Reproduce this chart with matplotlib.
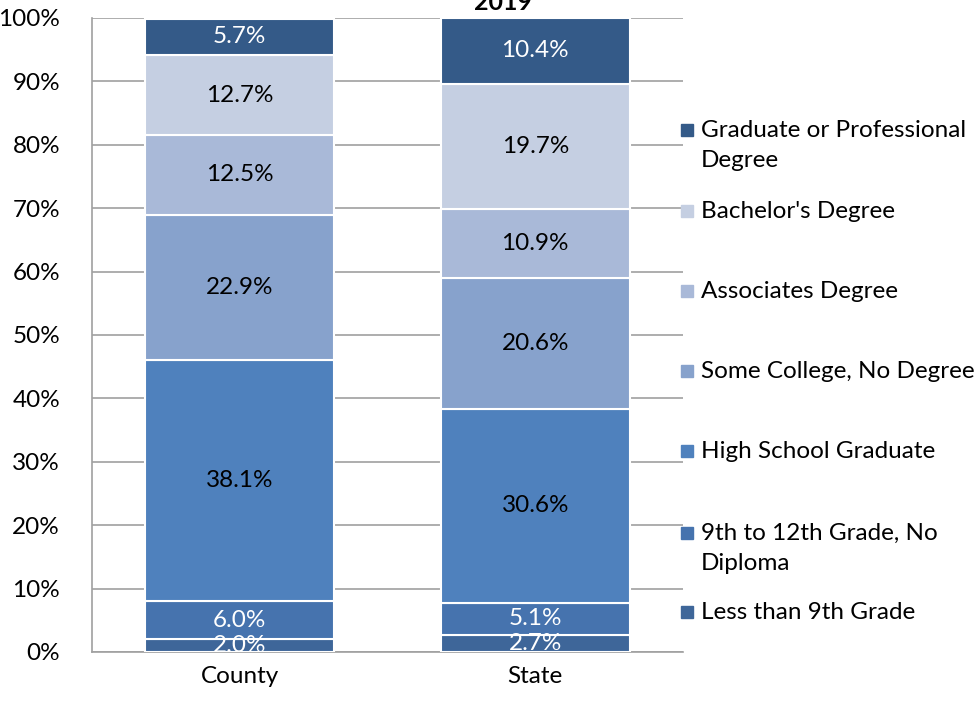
import numpy as np
import matplotlib
matplotlib.use("Agg")
import matplotlib.pyplot as plt
from matplotlib.patches import Rectangle

plt.rcParams['font.family'] = ['Lato', 'DejaVu Sans']

# data, bottom segment first
places = ["County", "State"]
levels = ["Less than 9th Grade", "9th to 12th Grade, No\nDiploma", "High School Graduate",
          "Some College, No Degree", "Associates Degree", "Bachelor's Degree",
          "Graduate or Professional\nDegree"]
county = [2.0, 6.0, 38.1, 22.9, 12.5, 12.7, 5.7]
state = [2.7, 5.1, 30.6, 20.6, 10.9, 19.7, 10.4]
colours = ["#3E6699", "#4673AE", "#4F81BD", "#87A2CC", "#A9B9D8", "#C5CFE2", "#345A88"]
label_colours = ["white", "white", "black", "black", "black", "black", "white"]

# legend rows, pixel y of first text line centre
legend_y = [612, 533, 451, 371, 291, 211, 130]

FS = 17.5
W, H = 979, 702
fig = plt.figure(figsize=(W / 100, H / 100), dpi=100)
ax = fig.add_axes([92 / W, 1 - 652 / H, (683 - 92) / W, (652 - 18) / H])

vals = np.array([county, state])
x = np.arange(len(places))
bottom = np.zeros(len(places))
for i in range(len(levels)):
    ax.bar(x, vals[:, i], 0.64, bottom=bottom, color=colours[i],
           edgecolor="white", linewidth=1.5, zorder=3)
    for j in range(len(places)):
        ax.text(x[j], bottom[j] + vals[j, i] / 2, "%.1f%%" % vals[j, i],
                ha="center", va="center", fontsize=FS, color=label_colours[i], zorder=4)
    bottom += vals[:, i]

ax.set_xlim(-0.5, 1.5)
ax.set_ylim(0, 100)
ax.set_yticks(np.arange(0, 101, 10))
ax.set_yticklabels(["%d%%" % v for v in range(0, 101, 10)], fontsize=FS)
ax.set_xticks(x)
ax.set_xticklabels(places, fontsize=FS)
ax.tick_params(axis="y", length=0, pad=23)
ax.tick_params(axis="x", length=0, pad=10)
ax.grid(axis="y", color="#A0A0A0", linewidth=1.2, zorder=0)
for s in ["top", "right"]:
    ax.spines[s].set_visible(False)
for s in ["left", "bottom"]:
    ax.spines[s].set_color("#A0A0A0")
    ax.spines[s].set_linewidth(1.2)

fig.text(503 / W, 1 - 10 / H, "2019", ha="center", va="baseline",
         fontsize=18, fontweight="bold")

for i in range(len(levels)):
    yc = legend_y[i]
    fig.add_artist(Rectangle((681 / W, 1 - (yc + 6) / H), 12 / W, 12 / H,
                             transform=fig.transFigure, color=colours[i]))
    fig.text(701 / W, 1 - (yc - 10) / H, levels[i], ha="left", va="top",
             fontsize=FS, linespacing=1.55)

fig.savefig("out.png", dpi=100)
